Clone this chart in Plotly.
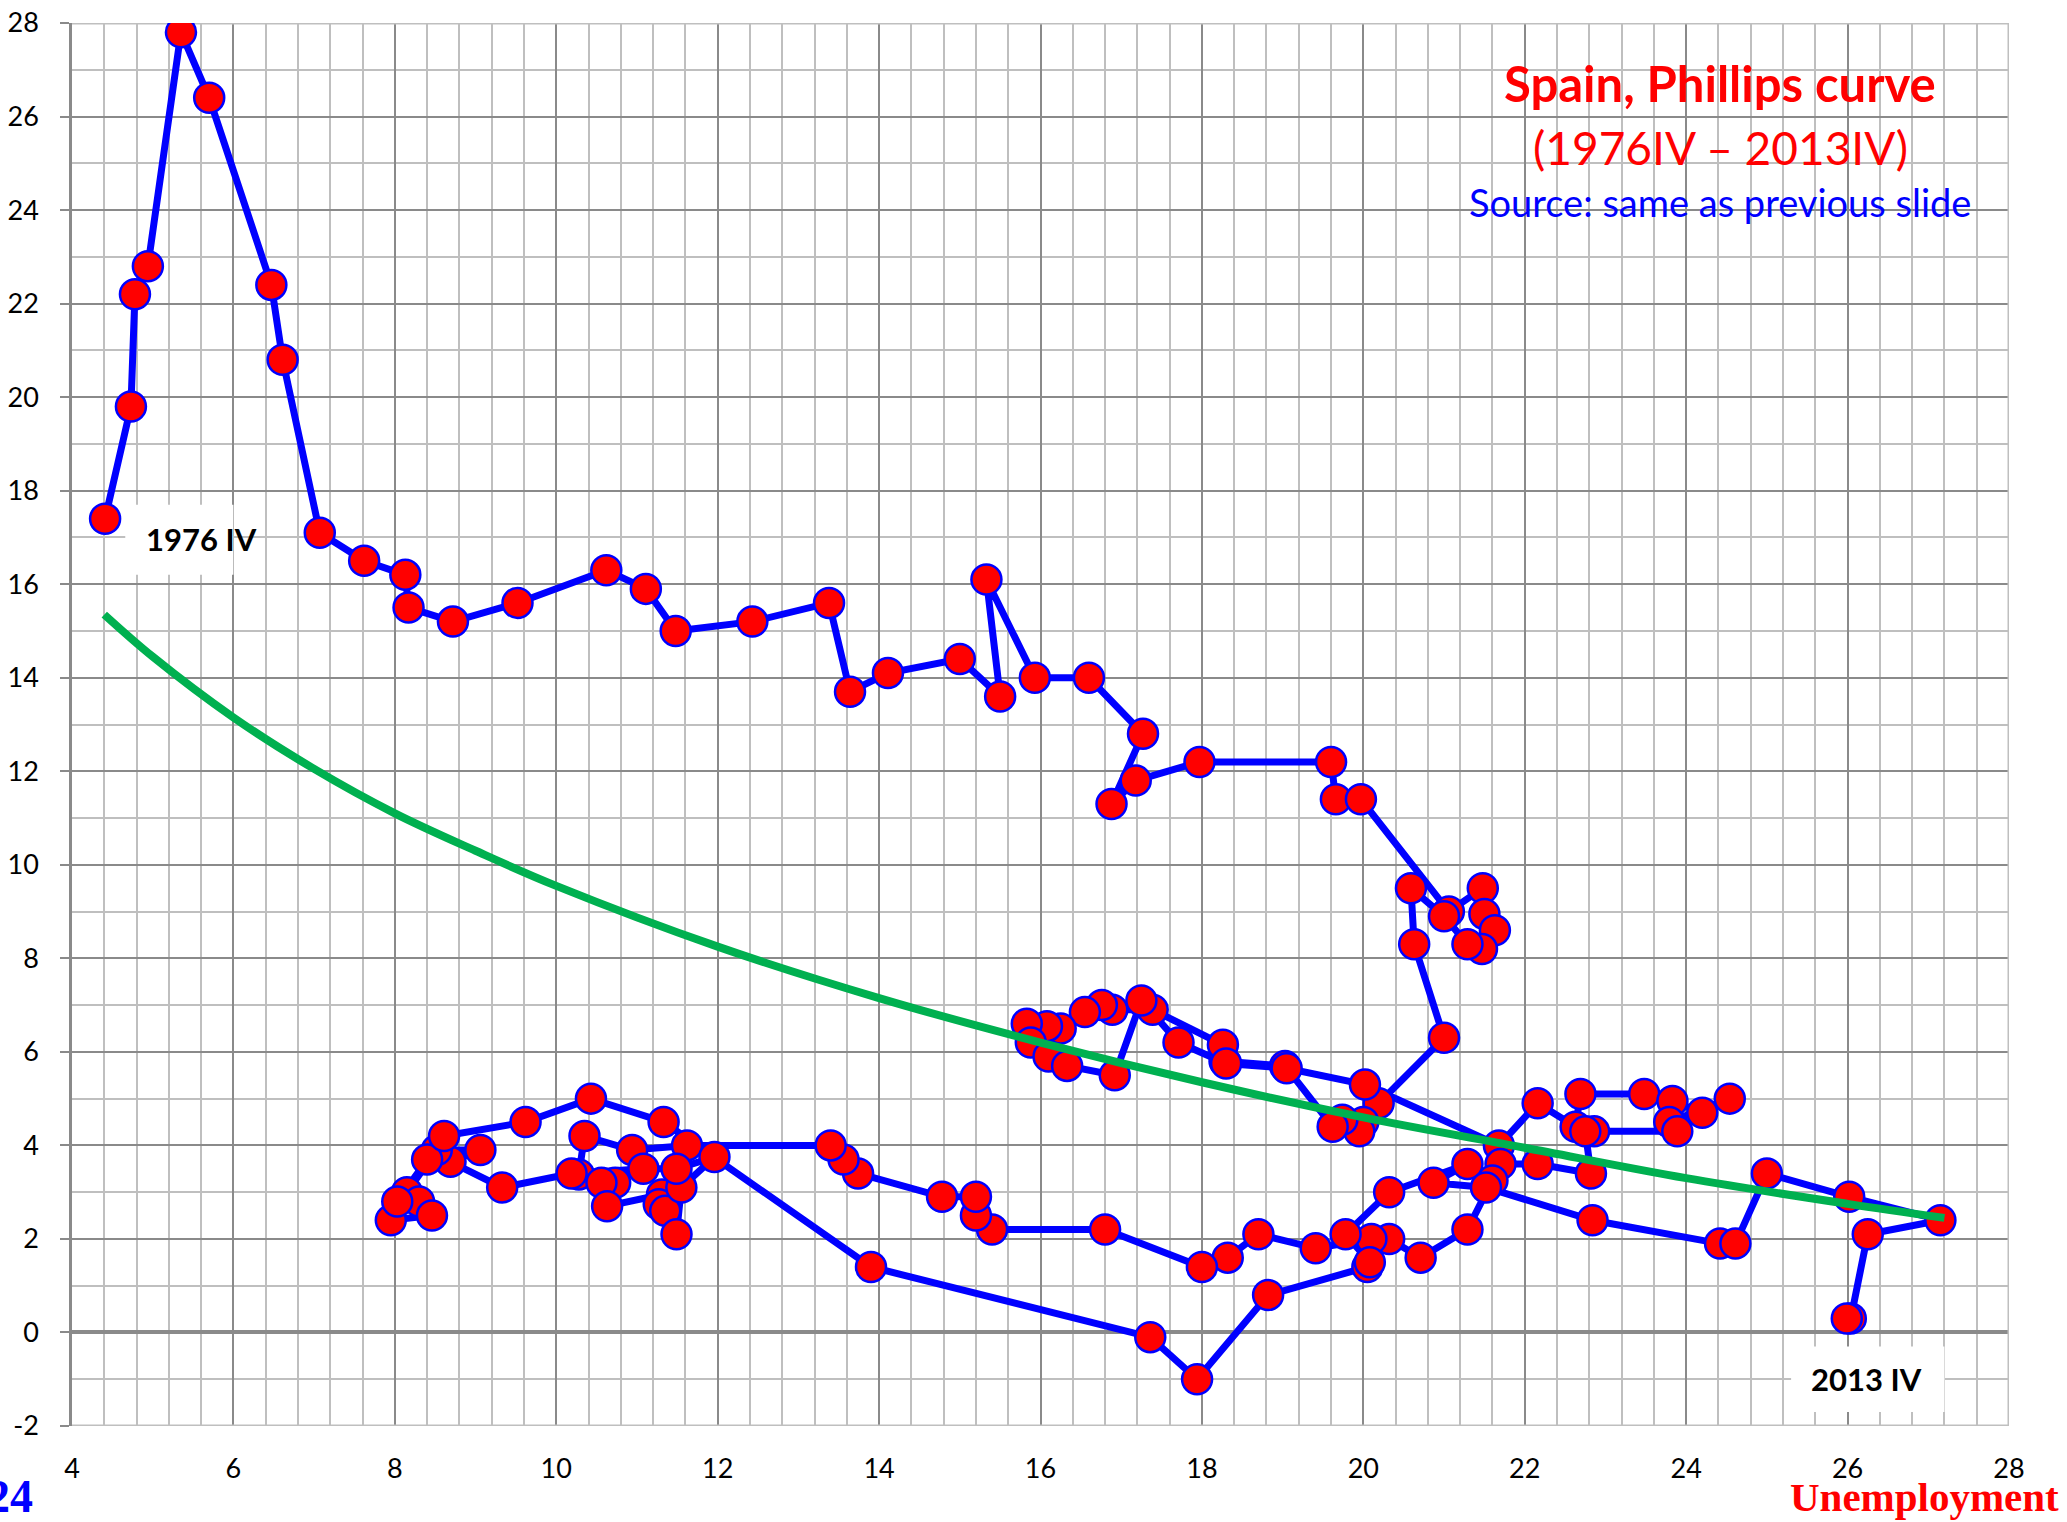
import plotly.graph_objects as go

# Unemployment (%) and inflation (%) for Spain, 1976IV - 2013IV
unemployment = [
    4.41, 4.73, 4.78, 4.94, 5.35, 5.70, 6.47, 6.61, 7.07, 7.62, 8.13, 8.17, 8.72, 9.52,
    10.62, 11.11, 11.48, 12.43, 13.38, 13.64, 14.11, 15.00, 15.50, 15.33, 15.93, 16.60,
    17.27, 16.88, 17.18, 17.97, 19.60, 19.66, 19.97, 21.06, 21.48, 21.50, 21.63, 21.47,
    21.29, 21.00, 20.59, 20.63, 21.00, 20.19, 20.00, 19.95, 19.74, 19.62, 19.03, 18.28,
    18.26, 17.39, 16.89, 16.76, 16.55, 16.25, 16.08, 15.83, 15.88, 16.10, 16.33, 16.92,
    17.25, 17.71, 18.30, 19.05, 20.02, 21.68, 22.16, 22.63, 22.69, 23.48, 23.83, 24.20,
    24.54, 23.79, 23.89, 22.86, 22.75, 22.82, 22.16, 21.70, 21.60, 21.29, 20.71, 20.32,
    20.10, 19.41, 18.70, 18.32, 18.00, 16.80, 15.40, 15.20, 15.20, 14.78, 13.74, 13.56,
    13.40, 11.62, 10.94, 10.35, 10.28, 10.73, 10.56, 10.63, 11.31, 11.27, 11.35, 11.49,
    11.55, 11.96, 11.49, 11.08, 10.19, 9.33, 8.69, 9.06, 8.52, 8.15, 8.30, 8.46, 7.95,
    8.03, 8.40, 8.61, 9.62, 10.43, 11.33, 13.90, 17.36, 17.94, 18.82, 20.05, 20.08,
    19.78, 20.32, 21.29, 20.87, 21.52, 22.84, 24.42, 24.61, 25.00, 26.02, 27.15, 26.25,
    26.04, 25.99,
]
inflation = [
    17.4, 19.8, 22.2, 22.8, 27.8, 26.4, 22.4, 20.8, 17.1, 16.5, 16.2, 15.5, 15.2, 15.6,
    16.3, 15.9, 15.0, 15.2, 15.6, 13.7, 14.1, 14.4, 13.6, 16.1, 14.0, 14.0,
    12.8, 11.3, 11.8, 12.2, 12.2, 11.4, 11.4, 9.0, 9.5, 8.95, 8.6, 8.2,
    8.3, 8.9, 9.5, 8.3, 6.3, 4.9, 4.5, 4.3, 4.55, 4.4, 5.7, 5.8,
    6.15, 6.9, 6.9, 7.0, 6.85, 6.5, 6.55, 6.6, 6.2, 5.9, 5.7, 5.5,
    7.1, 6.2, 5.75, 5.65, 5.3, 4.0, 4.9, 4.4, 5.1, 5.1, 4.95, 4.7,
    5.0, 4.5, 4.3, 4.3, 4.3, 3.4, 3.6, 3.6, 3.25, 2.2, 1.6, 2.0,
    2.0, 1.8, 2.1, 1.6, 1.4, 2.2, 2.2, 2.5, 2.9, 2.9, 3.4, 3.7,
    4.0, 4.0, 3.9, 4.2, 3.38, 3.2, 3.2, 2.7, 2.95, 2.74, 2.6, 2.1,
    3.1, 3.75, 3.5, 3.5, 3.4, 3.1, 3.65, 3.9, 3.9, 3.0, 2.8, 2.5, 2.4,
    2.8, 3.7, 4.2, 4.5, 5.0, 4.5, 1.4, -0.1, -1.0, 0.8, 1.4, 1.5,
    2.1, 3.0, 3.6, 3.2, 3.1, 2.4, 1.9, 1.9, 3.4, 2.9, 2.4, 2.1,
    0.3, 0.3,
]

# Green trend curve, read at several points
trend_x = [4.4, 5, 6, 7, 8, 9, 10, 12, 14, 16, 18, 20, 22, 24, 26, 27.2]
trend_y = [15.35, 14.45, 13.15, 12.05, 11.1, 10.3, 9.55, 8.25, 7.15, 6.2, 5.35, 4.6, 3.95, 3.3, 2.75, 2.45]

x_ticks = list(range(4, 29, 2))
y_ticks = list(range(-2, 29, 2))

W, H = 2067, 1522
ML, MR, MT, MB = 72, 58, 23, 96
PW = W - ML - MR
PH = H - MT - MB


def px_x(px):
    return (px - ML) / PW


def px_y(py):
    return (H - MB - py) / PH


MAJOR = "#8a8a8a"
MINOR = "#bfbfbf"
FONT = "Lato, Carlito, Calibri, sans-serif"

fig = go.Figure()
fig.add_trace(go.Scatter(
    x=unemployment, y=inflation, mode="lines+markers",
    line=dict(color="#0000ff", width=7),
    marker=dict(size=30, color="#ff0000", line=dict(color="#0000ff", width=2.5)),
    hoverinfo="x+y", showlegend=False,
))
fig.add_trace(go.Scatter(
    x=trend_x, y=trend_y, mode="lines",
    line=dict(color="#00b050", width=8, shape="spline"),
    hoverinfo="skip", showlegend=False,
))

shapes = [
    # title box
    dict(type="rect", xref="paper", yref="paper", x0=px_x(1456), x1=px_x(1983),
         y0=px_y(238), y1=px_y(38), fillcolor="white", line=dict(width=0), layer="between"),
    # label boxes
    dict(type="rect", xref="x", yref="y", x0=4.66, x1=6.0, y0=16.2, y1=17.7,
         fillcolor="white", line=dict(width=0), layer="between"),
    dict(type="rect", xref="x", yref="y", x0=25.3, x1=27.2, y0=-1.7, y1=-0.3,
         fillcolor="white", line=dict(width=0), layer="between"),
    # light border (top, bottom, right)
    dict(type="line", xref="x", yref="y", x0=28, x1=28, y0=-2, y1=28,
         line=dict(color=MINOR, width=3), layer="between"),
    dict(type="line", xref="x", yref="y", x0=4, x1=28, y0=28, y1=28,
         line=dict(color=MINOR, width=3), layer="between"),
    dict(type="line", xref="x", yref="y", x0=4, x1=28, y0=-2, y1=-2,
         line=dict(color=MINOR, width=3), layer="between"),
]

annotations = [
    dict(text="<b>Spain, Phillips curve</b>", xref="paper", yref="paper",
         x=px_x(1720), y=px_y(83), xanchor="center", yanchor="middle", showarrow=False,
         font=dict(family=FONT, size=49, color="#ff0000")),
    dict(text="(1976IV \u2013 2013IV)", xref="paper", yref="paper",
         x=px_x(1720), y=px_y(148), xanchor="center", yanchor="middle", showarrow=False,
         font=dict(family=FONT, size=46, color="#ff0000")),
    dict(text="Source: same as previous slide", xref="paper", yref="paper",
         x=px_x(1720), y=px_y(202), xanchor="center", yanchor="middle", showarrow=False,
         font=dict(family=FONT, size=38, color="#0000ff")),
    dict(text="<b>1976 IV</b>", xref="x", yref="y", x=5.6, y=16.97,
         xanchor="center", yanchor="middle", showarrow=False,
         font=dict(family=FONT, size=31, color="black")),
    dict(text="<b>2013 IV</b>", xref="x", yref="y", x=26.23, y=-0.99,
         xanchor="center", yanchor="middle", showarrow=False,
         font=dict(family=FONT, size=31, color="black")),
    dict(text="<b>Unemployment</b>", xref="paper", yref="paper",
         x=px_x(2061), y=px_y(1497), xanchor="right", yanchor="middle", showarrow=False,
         font=dict(family="Liberation Serif, Times New Roman, serif", size=41, color="#ff0000")),
    dict(text="<b>24</b>", xref="paper", yref="paper",
         x=px_x(35), y=px_y(1496), xanchor="right", yanchor="middle", showarrow=False,
         font=dict(family="Liberation Serif, Times New Roman, serif", size=46, color="#0000ff")),
]

fig.update_layout(
    width=W, height=H,
    margin=dict(l=ML, r=MR, t=MT, b=MB, pad=0, autoexpand=False),
    paper_bgcolor="white", plot_bgcolor="white",
    shapes=shapes, annotations=annotations,
    xaxis=dict(
        range=[4, 28], tickvals=x_ticks, ticktext=[str(v) for v in x_ticks],
        showgrid=True, gridcolor=MAJOR, gridwidth=2,
        minor=dict(dtick=0.4, tick0=4, showgrid=True, gridcolor=MINOR, gridwidth=1.5),
        zeroline=False, showline=False, ticks="",
        ticklabelstandoff=24, automargin=False,
        tickfont=dict(family=FONT, size=27, color="black"),
    ),
    yaxis=dict(
        range=[-2, 28], tickvals=y_ticks, ticktext=[str(v) for v in y_ticks],
        showgrid=True, gridcolor=MAJOR, gridwidth=2,
        minor=dict(dtick=1, tick0=0, showgrid=True, gridcolor=MINOR, gridwidth=1.5),
        zeroline=True, zerolinecolor=MAJOR, zerolinewidth=3.5,
        showline=True, linecolor=MAJOR, linewidth=2.5,
        ticks="outside", ticklen=9, tickwidth=2, tickcolor=MAJOR,
        ticklabelstandoff=16, automargin=False,
        tickfont=dict(family=FONT, size=27, color="black"),
    ),
)

fig.write_html("out.html", config={"displayModeBar": False},
               post_script="document.body.style.margin='0';")
